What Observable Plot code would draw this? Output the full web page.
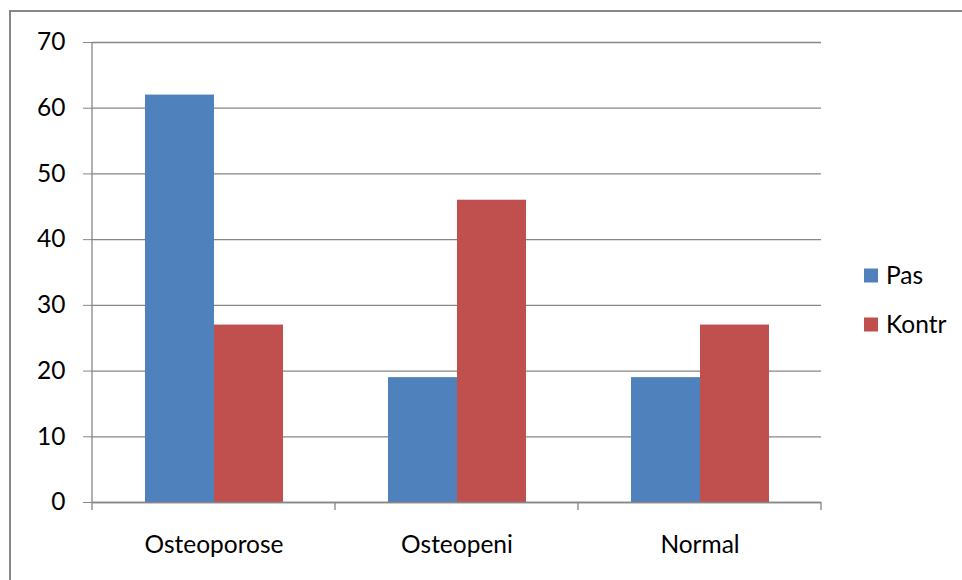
<!DOCTYPE html>
<html>
<head>
<meta charset="utf-8">
<script src="https://cdn.jsdelivr.net/npm/d3@7"></script>
<script src="https://cdn.jsdelivr.net/npm/@observablehq/plot@0.6"></script>
<style>
  html, body { margin: 0; padding: 0; background: #fff; }
  #chart { width: 962px; height: 580px; overflow: hidden; }
</style>
</head>
<body>
<div id="chart"></div>
<script>
const categories = ["Osteoporose", "Osteopeni", "Normal"];
const seriesNames = ["Pas", "Kontr"];
const pasValues = [62, 19, 19];
const kontrValues = [27, 46, 27];
const yTicks = [0, 10, 20, 30, 40, 50, 60, 70];
const seriesColors = ["#4F81BD", "#C0504D"];

const data = [];
categories.forEach((c, i) => {
  data.push({category: c, series: "Pas", value: pasValues[i]});
  data.push({category: c, series: "Kontr", value: kontrValues[i]});
});

const FONT = "Lato, 'Open Sans', sans-serif";
const FS = 24.5;
const W = 962, H = 580;
const mL = 92, mR = 141, mT = 42, mB = 78;
const grid = "#868686";

const plot = Plot.plot({
  width: W, height: H,
  marginLeft: mL, marginRight: mR, marginTop: mT, marginBottom: mB,
  style: {fontFamily: FONT, fontSize: FS + "px", color: "#000", background: "transparent"},
  fx: {domain: categories, padding: 0, label: null},
  x: {domain: seriesNames, paddingInner: 0, paddingOuter: 0.74, axis: null},
  y: {domain: [0, 70], ticks: yTicks, label: null},
  color: {domain: seriesNames, range: seriesColors},
  marks: [
    Plot.gridY(yTicks, {stroke: grid, strokeOpacity: 1, strokeWidth: 1.3}),
    Plot.barY(data, {fx: "category", x: "series", y: "value", fill: "series", inset: 0}),
    Plot.ruleY([0], {stroke: grid, strokeWidth: 1.5}),
    Plot.axisY(yTicks, {anchor: "left", tickSize: 9, tickPadding: 18, stroke: grid, fontSize: FS, label: null}),
    Plot.axisFx({anchor: "bottom", tickSize: 0, tickPadding: 33, fontSize: FS, label: null})
  ]
});

const svg = d3.select(plot);
const fx = plot.scale("fx");
const y = plot.scale("y");
const y0 = y.apply(0), yTop = y.apply(70);
const left = fx.apply(categories[0]);
const bounds = categories.map(c => fx.apply(c)).concat([fx.apply(categories[categories.length - 1]) + fx.bandwidth]);

// left axis line
svg.append("line").attr("x1", left).attr("x2", left).attr("y1", yTop).attr("y2", y0)
  .attr("stroke", grid).attr("stroke-width", 1.3);
// category boundary ticks
bounds.forEach(b => {
  svg.append("line").attr("x1", b).attr("x2", b).attr("y1", y0).attr("y2", y0 + 8)
    .attr("stroke", grid).attr("stroke-width", 1.3);
});

// legend
const lg = svg.append("g");
const lgX = W - mR + 43;
const lgY0 = (yTop + y0) / 2 + 3.5;
seriesNames.forEach((s, i) => {
  const cy = lgY0 + i * 49;
  lg.append("rect").attr("x", lgX).attr("y", cy - 7).attr("width", 14).attr("height", 14)
    .attr("fill", seriesColors[i]);
  lg.append("text").attr("x", lgX + 22).attr("y", cy).attr("dy", "0.35em")
    .attr("text-anchor", "start")
    .style("font-family", FONT).style("font-size", FS + "px")
    .attr("fill", "#000").text(s);
});

// outer chart border
svg.append("rect").attr("x", 10).attr("y", 11).attr("width", W + 20).attr("height", H + 20)
  .attr("fill", "none").attr("stroke", "#878787").attr("stroke-width", 2);

document.getElementById("chart").appendChild(plot);
</script>
</body>
</html>
